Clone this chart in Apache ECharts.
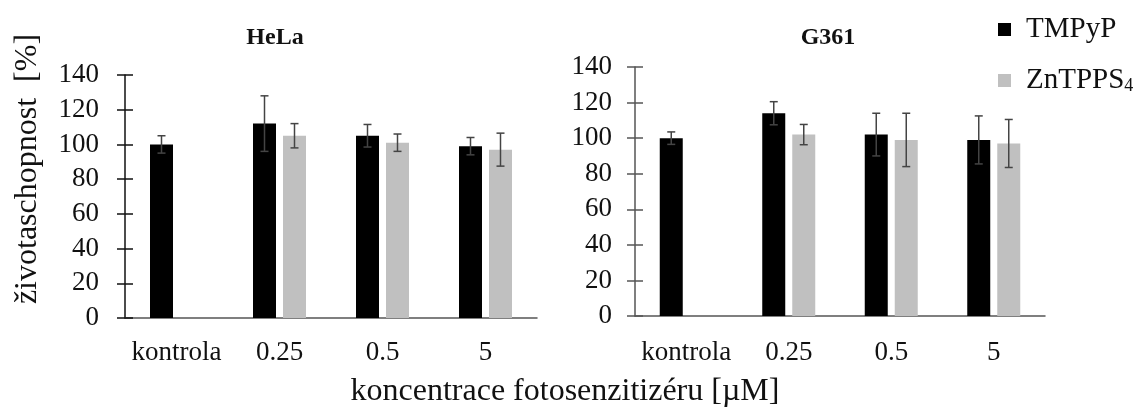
<!DOCTYPE html>
<html>
<head>
<meta charset="utf-8">
<script src="https://cdn.jsdelivr.net/npm/echarts@6/dist/echarts.min.js"></script>
<style>
  html, body { margin: 0; padding: 0; background: #fff; }
  #chart { width: 1148px; height: 409px; }
</style>
</head>
<body>
<div id="chart"></div>
<script>
// koncentrace fotosenzitizéru [µM]
const categories = ['kontrola', '0.25', '0.5', '5'];

// HeLa
const helaTmpyp = [100, 112, 105, 99];
const helaTmpypErr = [5, 16, 6.5, 5];
const helaZn = [0, 105, 101, 97];
const helaZnErr = [null, 7, 5, 9.5];

// G361
const g361Tmpyp = [100, 114, 102, 99];
const g361TmpypErr = [3.5, 6.5, 12, 13.5];
const g361Zn = [0, 102, 99, 97];
const g361ZnErr = [null, 5.7, 15, 13.5];

const yTicks = { min: 0, max: 140, interval: 20 };

const FONT = "'Liberation Serif', 'Times New Roman', serif";
const BAR_W = 23;
const BAR_GAP = 7;
const OFF = (BAR_W + BAR_GAP) / 2; // posun středu sloupce od středu kategorie

const chart = echarts.init(document.getElementById('chart'));

// chybové úsečky (I-beam)
function errSeries(vals, errs, idx, offset) {
  const data = [];
  vals.forEach((v, i) => {
    if (errs[i] == null) return;
    data.push([i, v, errs[i]]);
  });
  return {
    type: 'custom',
    xAxisIndex: idx,
    yAxisIndex: idx * 2,
    z: 10,
    silent: true,
    encode: { x: 0, y: 1 },
    data: data,
    renderItem: (params, api) => {
      const top = api.coord([api.value(0), api.value(1) + api.value(2)]);
      const bot = api.coord([api.value(0), api.value(1) - api.value(2)]);
      const x = top[0] + offset;
      const cap = 4;
      const style = { stroke: '#444', lineWidth: 1.5 };
      return {
        type: 'group',
        children: [
          { type: 'line', shape: { x1: x, y1: top[1], x2: x, y2: bot[1] }, style: style },
          { type: 'line', shape: { x1: x - cap, y1: top[1], x2: x + cap, y2: top[1] }, style: style },
          { type: 'line', shape: { x1: x - cap, y1: bot[1], x2: x + cap, y2: bot[1] }, style: style },
        ],
      };
    },
  };
}

function xAxisOf(gridIndex, lineColor, margin) {
  return {
    type: 'category',
    gridIndex: gridIndex,
    data: categories,
    axisLine: { lineStyle: { color: lineColor, width: 1.5 } },
    axisTick: { show: false },
    axisLabel: { interval: 0, color: '#111', fontFamily: FONT, fontSize: 27, margin: margin },
  };
}

function yAxesOf(gridIndex, lineColor, margin) {
  return [
    {
      type: 'value',
      gridIndex: gridIndex,
      ...yTicks,
      splitLine: { show: false },
      axisLine: { show: true, lineStyle: { color: lineColor, width: 1.5 } },
      axisTick: { show: true, length: 8, lineStyle: { color: lineColor, width: 1.5 } },
      axisLabel: { color: '#111', fontFamily: FONT, fontSize: 27, margin: margin },
    },
    {
      // vnitřní část křížových značek
      type: 'value',
      gridIndex: gridIndex,
      position: 'left',
      ...yTicks,
      splitLine: { show: false },
      axisLine: { show: false },
      axisTick: { show: true, inside: true, length: 8, lineStyle: { color: lineColor, width: 1.5 } },
      axisLabel: { show: false },
    },
  ];
}

function barSeries(name, vals, idx, color) {
  return {
    name: name,
    type: 'bar',
    xAxisIndex: idx,
    yAxisIndex: idx * 2,
    data: vals,
    barWidth: BAR_W,
    barGap: (BAR_GAP / BAR_W * 100) + '%',
    itemStyle: { color: color },
  };
}

chart.setOption({
  animation: false,
  backgroundColor: '#fff',
  grid: [
    { left: 125, top: 75, width: 412, height: 243 },
    { left: 635, top: 67, width: 410, height: 249 },
  ],
  legend: {
    orient: 'vertical',
    left: 993,
    top: 10,
    icon: 'rect',
    itemWidth: 13,
    itemHeight: 13,
    itemGap: 22,
    data: ['TMPyP', 'ZnTPPS4'],
    formatter: (name) => (name === 'ZnTPPS4' ? '{a|ZnTPPS}{s|4}' : '{a|' + name + '}'),
    textStyle: {
      padding: [0, 0, 0, 10],
      rich: {
        a: { fontFamily: FONT, fontSize: 29, color: '#111', lineHeight: 30 },
        s: { fontFamily: FONT, fontSize: 18, color: '#111', verticalAlign: 'bottom', lineHeight: 30, padding: [10, 0, 0, 0] },
      },
    },
  },
  xAxis: [xAxisOf(0, '#555', 21), xAxisOf(1, '#555', 23)],
  yAxis: [...yAxesOf(0, '#111', 26), ...yAxesOf(1, '#555', 23)],
  series: [
    barSeries('TMPyP', helaTmpyp, 0, '#000'),
    barSeries('ZnTPPS4', helaZn, 0, '#c0c0c0'),
    barSeries('TMPyP', g361Tmpyp, 1, '#000'),
    barSeries('ZnTPPS4', g361Zn, 1, '#c0c0c0'),
    errSeries(helaTmpyp, helaTmpypErr, 0, -OFF),
    errSeries(helaZn, helaZnErr, 0, OFF),
    errSeries(g361Tmpyp, g361TmpypErr, 1, -OFF),
    errSeries(g361Zn, g361ZnErr, 1, OFF),
  ],
  graphic: [
    {
      type: 'text', x: 275, y: 38,
      style: { text: 'HeLa', font: 'bold 24px ' + FONT, fill: '#111', align: 'center', verticalAlign: 'middle' },
    },
    {
      type: 'text', x: 828, y: 38,
      style: { text: 'G361', font: 'bold 24px ' + FONT, fill: '#111', align: 'center', verticalAlign: 'middle' },
    },
    {
      type: 'text', x: 28, y: 169, rotation: Math.PI / 2,
      style: { text: 'životaschopnost  [%]', font: '32px ' + FONT, fill: '#111', align: 'center', verticalAlign: 'middle' },
    },
    {
      type: 'text', x: 565, y: 392,
      style: { text: 'koncentrace fotosenzitizéru [µM]', font: '32px ' + FONT, fill: '#111', align: 'center', verticalAlign: 'middle' },
    },
  ],
});
</script>
</body>
</html>
